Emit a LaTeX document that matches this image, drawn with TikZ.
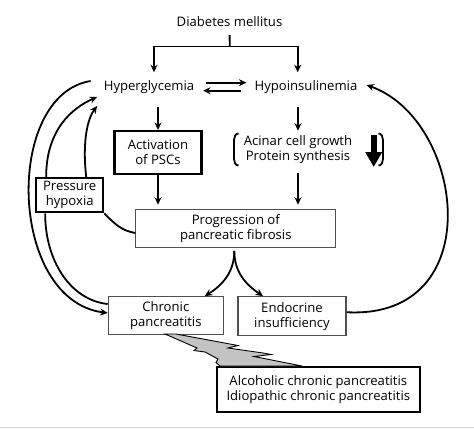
\documentclass[tikz,border=0pt]{standalone}
\usepackage{fontspec}
\setmainfont{Open Sans}
\usepackage{tikz}
\usetikzlibrary{arrows.meta, positioning, calc}
\definecolor{boxgray}{RGB}{80, 80, 80}
\definecolor{boltgray}{RGB}{195, 195, 195}
\definecolor{rulegray}{RGB}{212, 212, 212}

\begin{document}
\begin{tikzpicture}[
    x=1pt, y=1pt,
    font=\fontsize{13.1}{15}\selectfont,
    label_node/.style={inner xsep=4pt, inner ysep=8pt, align=center},
    thick_box/.style={draw, line width=2.1pt, align=center, inner sep=0pt},
    thin_box/.style={draw=boxgray, line width=1.2pt, align=center, inner sep=0pt},
    arrow/.style={-{Stealth[length=7.5pt,width=7pt]}, line width=1.8pt},
    plain_line/.style={line width=1.8pt}
]
    \useasboundingbox (0,0) rectangle (474,-429);

    % Top level
    \node[label_node] (dm) at (229.5,-22) {Diabetes mellitus};
    \node[label_node] (hyper) at (149,-87) {Hyperglycemia};
    \node[label_node] (hypo) at (306,-87) {Hypoinsulinemia};

    % Boxes
    \node[thick_box, minimum width=87pt, minimum height=43pt] (psc) at (158,-152.5) {Activation\\of PSCs};
    \node[label_node, inner ysep=5pt] (acinar) at (298,-150) {Acinar cell growth\\Protein synthesis};
    \node[thick_box, minimum width=67pt, minimum height=34pt] (press) at (69.7,-195.3) {Pressure\\hypoxia};
    \node[thin_box, minimum width=200pt, minimum height=38pt] (prog) at (235.8,-228.3) {Progression of\\pancreatic fibrosis};
    \node[thin_box, minimum width=115pt, minimum height=37.6pt] (chronic) at (165.8,-315.5) {Chronic\\pancreatitis};
    \node[thin_box, minimum width=108pt, minimum height=39pt] (endo) at (292,-316.2) {Endocrine\\insufficiency};
    \node[thick_box, minimum width=203pt, minimum height=45.6pt] (alc) at (318.3,-389.5) {Alcoholic chronic pancreatitis\\Idiopathic chronic pancreatitis};

    % Brackets and decrease sign
    \draw[line width=1.8pt] (238.5,-133.5) to[out=180,in=90] (234,-140) -- (234,-159) to[out=-90,in=180] (238.5,-165.5);
    \draw[line width=1.8pt] (378.5,-133.5) to[out=0,in=90] (383,-140) -- (383,-159) to[out=-90,in=0] (378.5,-165.5);
    \draw[line width=6pt, -{Triangle[length=15pt,width=16pt]}] (373.7,-135) -- (373.7,-167);

    % Lightning
    \draw[fill=boltgray, line width=0.9pt] (176,-334) -- (230,-344) -- (238,-345.5) -- (228,-348) -- (263,-353) -- (271,-354.5) -- (254,-356.5) -- (302,-366) -- (220,-366) -- (216,-362.5) -- (218,-359) -- (205,-352) -- (194,-350.5) -- (197,-348) -- (165,-334) -- cycle;

    % Arrows
    \coordinate (split) at (229.7,-46.5);
    \draw[plain_line] (dm) -- (split);
    \draw[arrow] (split) -| ([xshift=5pt]hyper.north);
    \draw[arrow] (split) -| ([xshift=-8.3pt]hypo.north);
    \draw[arrow, shorten <=8pt, shorten >=4pt] ([yshift=4.3pt]hyper.east) -- ([yshift=4.3pt]hypo.west);
    \draw[arrow, shorten <=9pt, shorten >=4.7pt] ([yshift=-3.7pt]hypo.west) -- ([yshift=-3.7pt]hyper.east);
    \draw[arrow, shorten <=5pt] (hyper.south -| psc.north) -- (psc.north);
    \draw[arrow, shorten <=5pt] (hypo.south -| acinar.north) -- (acinar.north);
    \draw[arrow, shorten >=4pt] (psc.south) -- (psc.south |- prog.north);
    \draw[arrow, shorten <=4pt, shorten >=4pt] (acinar.south) -- (acinar.south |- prog.north);
    \draw[arrow] ([xshift=-1.5pt,yshift=-3pt]prog.south) to[out=-90,in=32] ([xshift=39pt]chronic.north);
    \draw[arrow] ([xshift=-1.5pt,yshift=-3pt]prog.south) to[out=-90,in=146] ([xshift=-29pt]endo.north);

    % Feedback loops
    \draw[arrow] ([xshift=-9pt,yshift=6pt]hyper.west) .. controls (4,-95) and (8,-300) .. ([yshift=2.5pt]chronic.west);
    \draw[plain_line] ([yshift=11.5pt]chronic.west) .. controls (70,-300) and (45,-260) .. ([xshift=10pt]press.south west);
    \draw[arrow] ([xshift=11pt]press.north west) .. controls (46,-130) and (72,-108) .. ([xshift=-2.5pt,yshift=-10pt]hyper.west);
    \draw[plain_line] ([yshift=-4.7pt]prog.west) to[out=170,in=-45] (press.south east);
    \draw[arrow] ([xshift=-18pt]press.north east) .. controls (82,-140) and (88,-118) .. ([xshift=-2.5pt,yshift=-19pt]hyper.west);
    \draw[arrow] ([yshift=4pt]endo.east) .. controls (490,-320) and (465,-120) .. ([xshift=5pt,yshift=2pt]hypo.east);

    % Frame line
    \draw[rulegray, line width=1.5pt] (0,-427.5) -- (474,-427.5);
\end{tikzpicture}
\end{document}
